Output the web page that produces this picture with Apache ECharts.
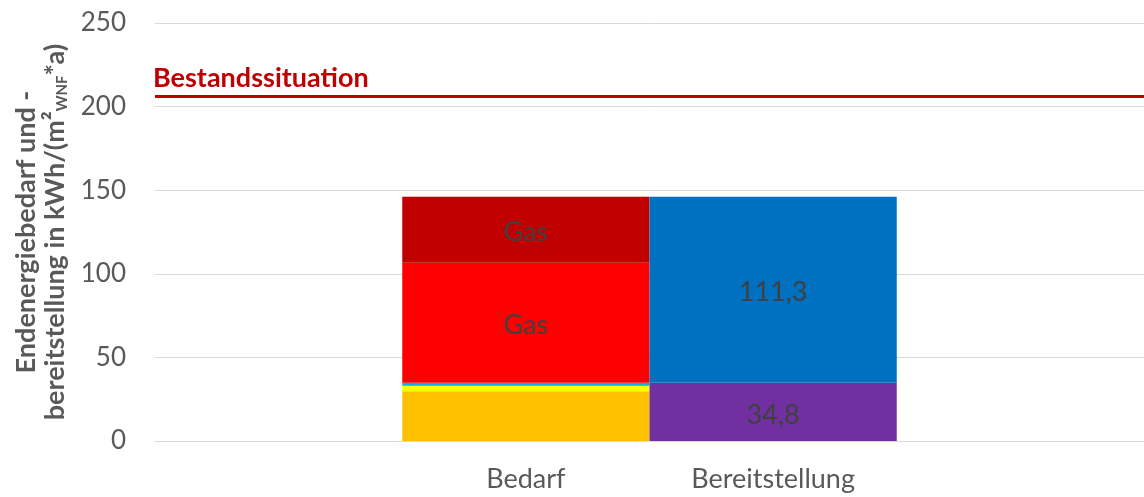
<!DOCTYPE html>
<html><head><meta charset="utf-8">
<script src="https://cdn.jsdelivr.net/npm/echarts@6/dist/echarts.min.js"></script>
<style>html,body{margin:0;padding:0;background:#fff}#c{width:1144px;height:497px}</style>
</head><body><div id="c"></div>
<script>
const categories = ['', 'Bedarf', 'Bereitstellung', ''];
const yTicks = [0, 50, 100, 150, 200, 250];
const bedarfOrange = ['-', 29.8, '-', '-'];
const bedarfYellow = ['-', 3.2, '-', '-'];
const bedarfLightBlue = ['-', 1.8, '-', '-'];
const bedarfGasRed = ['-', 71.8, '-', '-'];
const bedarfGasDarkRed = ['-', 39.5, '-', '-'];
const bereitPurple = ['-', '-', 34.8, '-'];
const bereitBlue = ['-', '-', 111.3, '-'];
const bestandValue = 206.3;
const bestandLabel = 'Bestandssituation';

const FONT = 'Lato, "Noto Sans", sans-serif';
const fmtNum = v => String(v.value).replace('.', ',');

function seg(name, data, color, label) {
  return {
    name, type: 'bar', stack: 'a', data, barWidth: '100%',
    itemStyle: { color },
    label: label ? {
      show: true, position: 'inside', color: '#404040', fontSize: 27, fontFamily: FONT,
      formatter: label, offset: [0, 3]
    } : { show: false },
    emphasis: { disabled: true }
  };
}

const chart = echarts.init(document.getElementById('c'));
const series = [
  seg('Orange', bedarfOrange, '#FFC000'),
  seg('Gelb', bedarfYellow, '#FFFF00'),
  seg('Hellblau', bedarfLightBlue, '#00B0F0'),
  seg('Gas', bedarfGasRed, '#FF0000', 'Gas'),
  seg('Gas2', bedarfGasDarkRed, '#C00000', 'Gas'),
  seg('Lila', bereitPurple, '#7030A0', fmtNum),
  seg('Blau', bereitBlue, '#0070C0', fmtNum)
];
series[0].markLine = {
  symbol: 'none', silent: true,
  lineStyle: { color: '#C00000', width: 3, type: 'solid' },
  label: {
    show: true, position: 'insideStartTop', formatter: bestandLabel,
    color: '#C00000', fontWeight: 'bold', fontSize: 27, fontFamily: FONT, distance: [-2, 4]
  },
  data: [{ yAxis: bestandValue }]
};
chart.setOption({
  animation: false,
  grid: { left: 155, right: 0, top: 23, bottom: 56 },
  xAxis: {
    type: 'category', data: categories,
    axisLine: { show: true, lineStyle: { color: '#D9D9D9', width: 1 } },
    axisTick: { show: false },
    axisLabel: { color: '#595959', fontSize: 27, fontFamily: FONT, margin: 25 }
  },
  yAxis: {
    type: 'value', min: yTicks[0], max: yTicks[yTicks.length - 1], interval: 50,
    axisLine: { show: false }, axisTick: { show: false },
    splitLine: { lineStyle: { color: '#D9D9D9', width: 1 } },
    axisLabel: { color: '#595959', fontSize: 26, fontFamily: FONT, margin: 29 },
    nameLocation: 'middle', nameGap: 80,
    name: '{a|Endenergiebedarf und -}\n{a|bereitstellung in kWh/(m²}{sub|WNF}{a|*a)}',
    nameTextStyle: {
      rich: {
        a: { color: '#595959', fontSize: 27, fontWeight: 'bold', fontFamily: FONT, lineHeight: 29 },
        sub: { color: '#595959', fontSize: 15, fontWeight: 'bold', fontFamily: FONT, verticalAlign: 'bottom', lineHeight: 29, padding: [12, 0, 0, 0] }
      }
    }
  },
  series
});
</script></body></html>
